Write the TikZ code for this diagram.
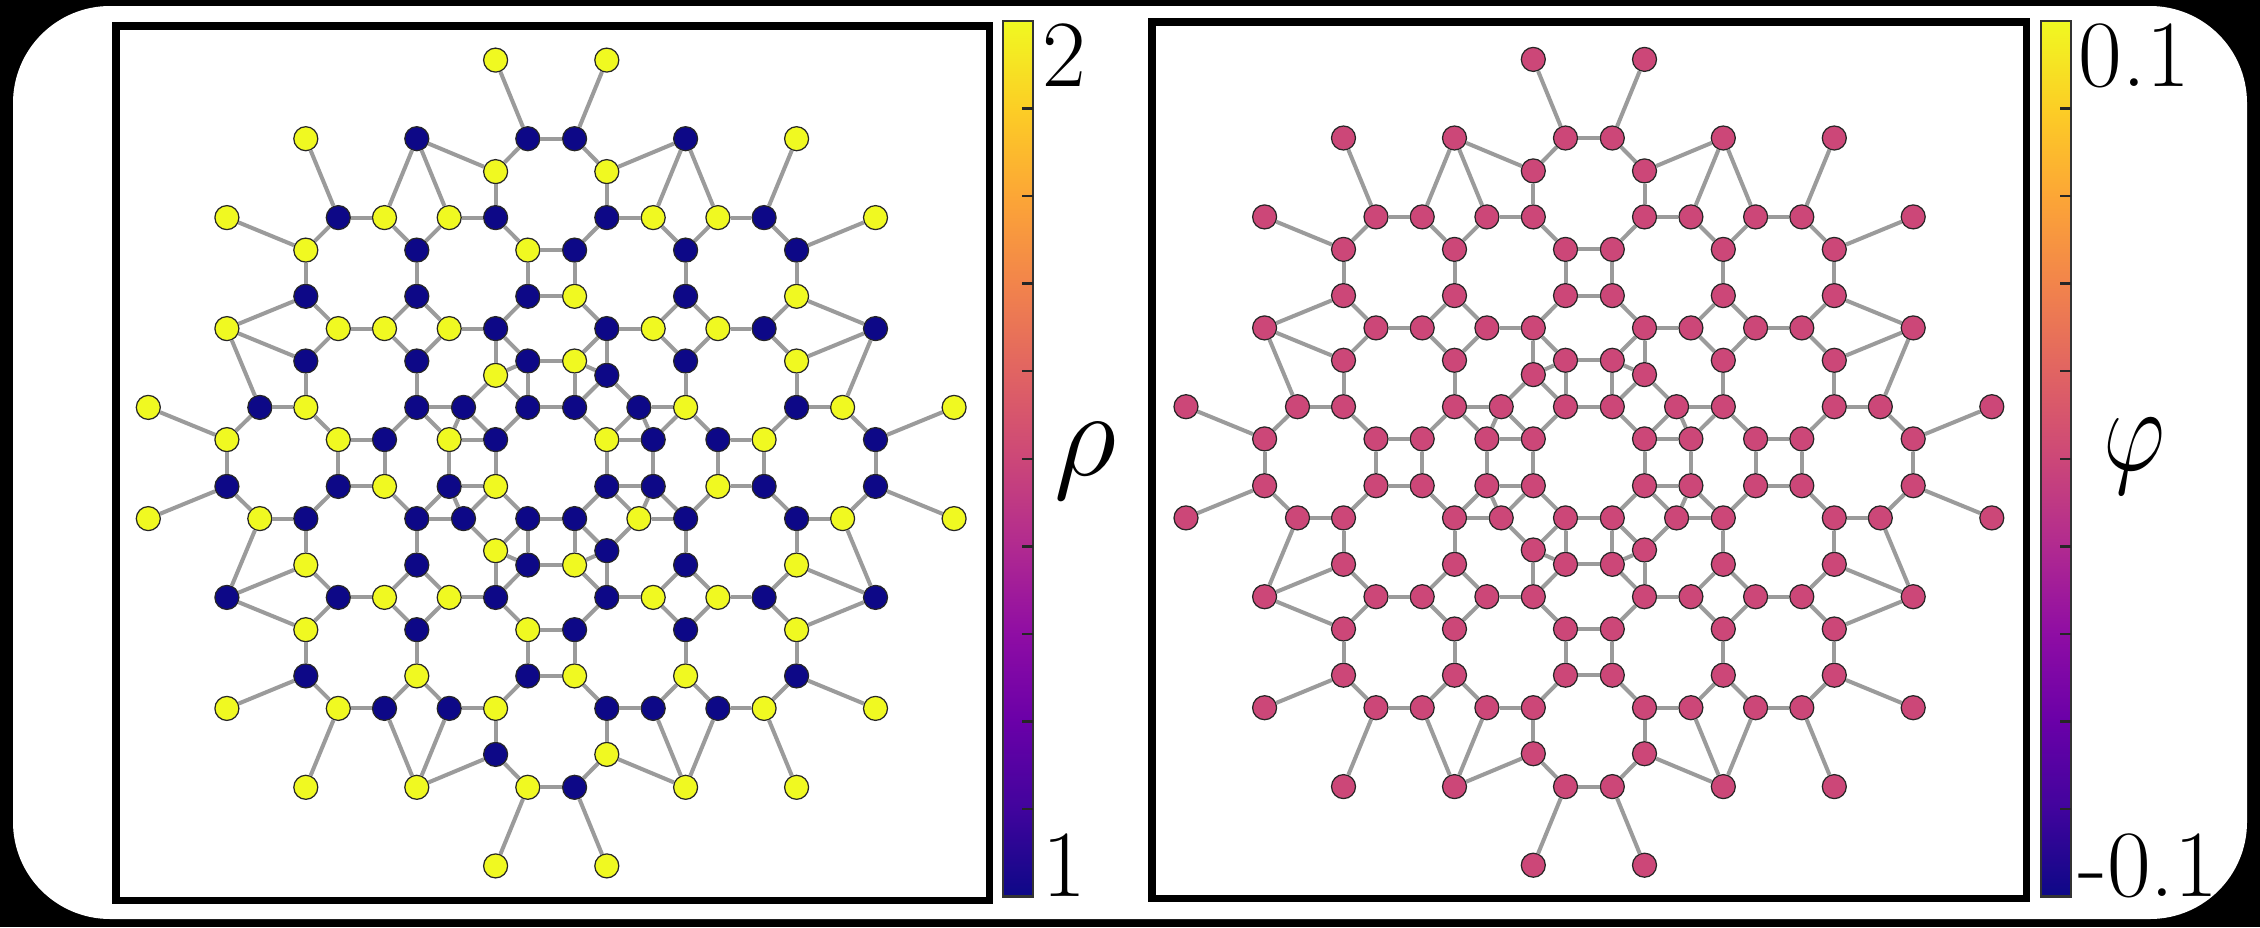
\documentclass[tikz,border=0pt]{standalone}
\usepackage{graphicx}
\usepackage{xcolor}
\usepackage{tikz}
\definecolor{plasma0}{HTML}{0D0887}
\definecolor{plasma1}{HTML}{41049D}
\definecolor{plasma2}{HTML}{6A00A8}
\definecolor{plasma3}{HTML}{8F0DA4}
\definecolor{plasma4}{HTML}{B12A90}
\definecolor{plasma5}{HTML}{CC4778}
\definecolor{plasma6}{HTML}{E16462}
\definecolor{plasma7}{HTML}{F2844B}
\definecolor{plasma8}{HTML}{FCA636}
\definecolor{plasma9}{HTML}{FCCE25}
\definecolor{plasma10}{HTML}{F0F921}
\definecolor{plasmalo}{HTML}{0D0887}
\definecolor{plasmahi}{HTML}{F0F921}
\definecolor{plasmamid}{HTML}{CC4778}
\definecolor{bondgray}{HTML}{9B9B9B}

\tikzset{
  site/.style={circle,draw=black!85,line width=0.35pt,minimum size=0.24cm,inner sep=0pt},
  bond/.style={draw=bondgray,line width=0.04cm},
  frame/.style={draw=black,line width=0.075cm},
  cbnum/.style={anchor=base west,inner sep=0pt,font=\fontsize{27}{32}\selectfont},
  cbsym/.style={anchor=base west,inner sep=0pt,font=\fontsize{24.88}{30}\selectfont}
}

% radial offsets of the lattice rows/columns (px)
\def\cv{{0,23.4,55.6,87.7,102,134.4,166.7,212.9,245.4,291.4,324.3,402.9}}

\def\sitelist{-2/11/hi, -8/10/hi, -5/10/lo, -1/10/lo, -2/9/hi,
-10/8/hi, -7/8/lo, -6/8/hi, -4/8/hi, -2/8/lo,
-8/7/hi, -5/7/lo, -1/7/hi, -8/6/lo, -5/6/lo, -1/6/lo,
-10/5/hi, -7/5/hi, -6/5/hi, -4/5/hi, -2/5/lo,
-8/4/lo, -5/4/lo, -1/4/lo, -2/3/hi,
-11/2/hi, -9/2/lo, -8/2/hi, -5/2/lo, -3/2/lo, -1/2/lo,
-10/1/hi, -7/1/hi, -6/1/lo, -4/1/hi, -2/1/lo,
2/11/hi, 1/10/lo, 5/10/lo, 8/10/hi, 2/9/hi,
2/8/lo, 4/8/hi, 6/8/hi, 7/8/lo, 10/8/hi,
1/7/lo, 5/7/lo, 8/7/lo, 1/6/hi, 5/6/lo, 8/6/hi,
2/5/lo, 4/5/hi, 6/5/hi, 7/5/lo, 10/5/lo,
1/4/hi, 5/4/lo, 8/4/hi, 2/3/lo,
1/2/lo, 3/2/lo, 5/2/hi, 8/2/lo, 9/2/hi, 11/2/hi,
2/1/hi, 4/1/lo, 6/1/lo, 7/1/hi, 10/1/lo,
-10/-1/lo, -7/-1/lo, -6/-1/hi, -4/-1/lo, -2/-1/hi,
-11/-2/hi, -9/-2/hi, -8/-2/lo, -5/-2/lo, -3/-2/lo, -1/-2/lo,
-2/-3/hi, -8/-4/hi, -5/-4/lo, -1/-4/lo,
-10/-5/lo, -7/-5/lo, -6/-5/hi, -4/-5/hi, -2/-5/lo,
-8/-6/hi, -5/-6/lo, -1/-6/hi, -8/-7/lo, -5/-7/hi, -1/-7/lo,
-10/-8/hi, -7/-8/hi, -6/-8/lo, -4/-8/lo, -2/-8/hi,
-2/-9/lo, -8/-10/hi, -5/-10/hi, -1/-10/hi, -2/-11/hi,
2/-1/lo, 4/-1/lo, 6/-1/hi, 7/-1/lo, 10/-1/lo,
1/-2/lo, 3/-2/hi, 5/-2/lo, 8/-2/lo, 9/-2/hi, 11/-2/hi,
2/-3/lo, 1/-4/hi, 5/-4/lo, 8/-4/hi,
2/-5/lo, 4/-5/hi, 6/-5/hi, 7/-5/lo, 10/-5/lo,
1/-6/lo, 5/-6/lo, 8/-6/hi, 1/-7/hi, 5/-7/hi, 8/-7/lo,
2/-8/lo, 4/-8/lo, 6/-8/lo, 7/-8/hi, 10/-8/hi,
2/-9/hi, 1/-10/lo, 5/-10/hi, 8/-10/hi, 2/-11/hi}

% bonds of one quadrant, mirrored into the other three
\def\bondlist{-2/11/-1/10, -1/10/-2/9, -1/10/1/10, -5/10/-2/9, -5/10/-6/8,
-5/10/-4/8, -2/9/-2/8, -8/10/-7/8, -10/8/-8/7, -7/8/-6/8, -7/8/-8/7,
-6/8/-5/7, -4/8/-5/7, -4/8/-2/8, -2/8/-1/7, -1/7/1/7, -8/7/-8/6,
-5/7/-5/6, -1/7/-1/6, -1/6/1/6, -8/6/-10/5, -8/6/-7/5, -5/6/-6/5,
-5/6/-4/5, -1/6/-2/5, -7/5/-6/5, -4/5/-2/5, -10/5/-8/4, -10/5/-9/2,
-7/5/-8/4, -6/5/-5/4, -4/5/-5/4, -2/5/-1/4, -2/5/-2/3, -1/4/1/4,
-1/4/-2/3, -8/4/-8/2, -5/4/-5/2, -1/4/-1/2, -2/3/-3/2, -2/3/-1/2,
-11/2/-10/1, -9/2/-8/2, -9/2/-10/1, -8/2/-7/1, -5/2/-6/1, -5/2/-3/2,
-5/2/-4/1, -3/2/-4/1, -3/2/-2/1, -1/2/-2/1, -1/2/1/2, -7/1/-6/1,
-4/1/-2/1, -10/1/-10/-1, -7/1/-7/-1, -6/1/-6/-1, -4/1/-4/-1, -2/1/-2/-1}

\begin{document}
\begin{tikzpicture}[x=0.01cm,y=-0.01cm]
  \useasboundingbox (0,0) rectangle (2260,927);
  \fill[black] (0,0) rectangle (2260,927);
  \fill[white,rounded corners=0.97cm] (13,6) rectangle (2247,919);

  \draw[frame] (115.75,26) rectangle (989.25,900.5);
  \draw[frame] (1151.75,22) rectangle (2026.25,898.5);

  % density panel
  \begin{scope}[shift={(551.2,463)},yscale=-1]
    \foreach \x/\y/\c in \sitelist {
      \pgfmathsetmacro\px{(\x)/abs(\x)*\cv[int(abs(\x))]}
      \pgfmathsetmacro\py{(\y)/abs(\y)*\cv[int(abs(\y))]}
      \node[site,fill=plasma\c] (L\x y\y) at (\px,\py) {};
    }
    \foreach \ax/\ay/\bx/\by in \bondlist {
      \foreach \sx/\sy in {1/1,-1/1,1/-1,-1/-1} {
        \pgfmathtruncatemacro\pa{\sx*(\ax)}
        \pgfmathtruncatemacro\pb{\sy*(\ay)}
        \pgfmathtruncatemacro\pc{\sx*(\bx)}
        \pgfmathtruncatemacro\pd{\sy*(\by)}
        \draw[bond] (L\pa y\pb) -- (L\pc y\pd);
      }
    }
  \end{scope}

  % phase panel
  \begin{scope}[shift={(1588.9,462.3)},yscale=-1]
    \foreach \x/\y/\c in \sitelist {
      \pgfmathsetmacro\px{(\x)/abs(\x)*\cv[int(abs(\x))]}
      \pgfmathsetmacro\py{(\y)/abs(\y)*\cv[int(abs(\y))]}
      \node[site,fill=plasmamid] (R\x y\y) at (\px,\py) {};
    }
    \foreach \ax/\ay/\bx/\by in \bondlist {
      \foreach \sx/\sy in {1/1,-1/1,1/-1,-1/-1} {
        \pgfmathtruncatemacro\pa{\sx*(\ax)}
        \pgfmathtruncatemacro\pb{\sy*(\ay)}
        \pgfmathtruncatemacro\pc{\sx*(\bx)}
        \pgfmathtruncatemacro\pd{\sy*(\by)}
        \draw[bond] (R\pa y\pb) -- (R\pc y\pd);
      }
    }
  \end{scope}

  % colour bars
  \foreach \bx in {1003,2041} {
    \foreach \i in {0,...,9} {
      \pgfmathtruncatemacro\j{\i+1}
      \shade[bottom color=plasma\i,top color=plasma\j] (\bx,{896.5-87.55*\i}) rectangle (\bx+30,{896.5-87.55*\j-0.6});
    }
    \draw[black!80,line width=0.6pt] (\bx,20.7) rectangle (\bx+30,896.5);
    \foreach \i in {1,...,9}
      \draw[black!85,line width=0.7pt] (\bx+30,{896.5-87.55*\i}) -- ++(-11,0);
  }

  \node[cbnum] (rhomax) at (1042,86) {2};
  \node[cbnum] (rhomin) at (1042,896) {1};
  \node[cbsym] (rholab) at (1054,475) {\scalebox{1.4}{$\rho$}};
  \node[cbnum] (phimax) at (2078,86) {0.1};
  \node[cbnum] (phimin) at (2078,896) {-0.1};
  \node[cbsym] (philab) at (2103,470) {\scalebox{1.1}[1.38]{$\varphi$}};
\end{tikzpicture}
\end{document}
